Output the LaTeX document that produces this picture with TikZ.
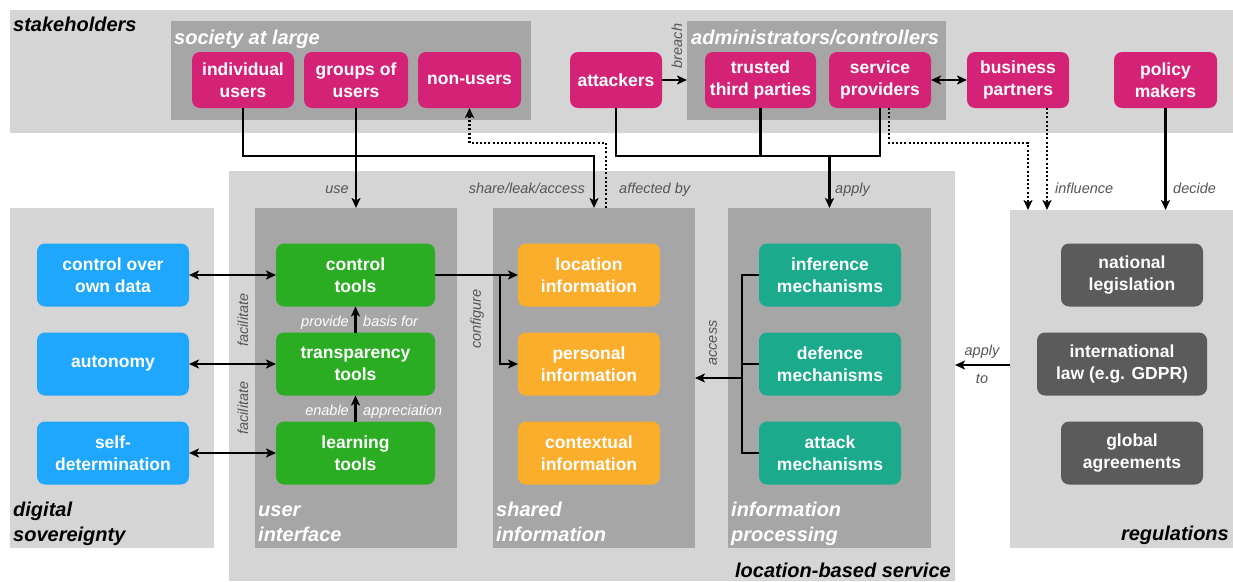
\documentclass[tikz,border=0pt]{standalone}
\usepackage{fontspec}
\setmainfont{Liberation Sans}
\usetikzlibrary{arrows.meta}
\definecolor{bandgray}{HTML}{D5D5D5}
\definecolor{boxgray}{HTML}{A6A6A6}
\definecolor{magc}{HTML}{D42276}
\definecolor{skyc}{HTML}{1EA7FD}
\definecolor{grnc}{HTML}{2AAD22}
\definecolor{orgc}{HTML}{FBAD2C}
\definecolor{tealc}{HTML}{1BAA8C}
\definecolor{dgrayc}{HTML}{5B5B5B}
\definecolor{lblgray}{HTML}{555555}
\newcommand\itemfont{\fontsize{17.5}{22.5}\selectfont\bfseries}
\newcommand\grpfont{\fontsize{20}{25}\selectfont\bfseries\itshape}
\newcommand\lblfont{\fontsize{14.5}{17}\selectfont\itshape}
\begin{document}
\begin{tikzpicture}[x=1pt,y=-1pt,
  region/.style={fill=#1, draw=none, inner sep=0pt, outer sep=0pt, anchor=north west},
  item/.style={fill=#1, draw=none, rounded corners=8pt, text=white, font=\itemfont, align=center, inner sep=0pt, outer sep=0pt},
  grp/.style={font=\grpfont, text=#1, inner sep=0pt, align=left},
  lbl/.style={font=\lblfont, text=lblgray, inner sep=0pt},
  wire/.style={line width=2.1pt, draw=black},
  conn/.style={wire, -{Stealth[length=10pt,width=9pt,inset=2.5pt]}},
  dconn/.style={wire, {Stealth[length=10pt,width=9pt,inset=2.5pt]}-{Stealth[length=10pt,width=9pt,inset=2.5pt]}},
  dotconn/.style={wire, dash pattern=on 2pt off 2.2pt, -{Stealth[length=10pt,width=9pt,inset=2.5pt]}},
]
\useasboundingbox (0,0) rectangle (1233,581);
% regions
\node[region=bandgray, minimum width=1223pt, minimum height=123pt] (sh) at (10,10) {};
\node[region=boxgray, minimum width=360pt, minimum height=99pt] (soc) at (171,21) {};
\node[region=boxgray, minimum width=259pt, minimum height=99pt] (adm) at (687,21) {};
\node[region=bandgray, minimum width=726pt, minimum height=410pt] (lbs) at (229,171) {};
\node[region=bandgray, minimum width=204pt, minimum height=340pt] (ds) at (10,208) {};
\node[region=boxgray, minimum width=202pt, minimum height=340pt] (ui) at (255,208) {};
\node[region=boxgray, minimum width=202pt, minimum height=340pt] (si) at (493,208) {};
\node[region=boxgray, minimum width=203pt, minimum height=340pt] (ip) at (728,208) {};
\node[region=bandgray, minimum width=223pt, minimum height=338pt] (reg) at (1010,210) {};
% group labels
\node[grp=black, anchor=base west] (shl) at (13,31) {stakeholders};
\node[grp=white, anchor=base west] (socl) at (174,44) {society at large};
\node[grp=white, anchor=base west] (adml) at (691,44) {administrators/controllers};
\node[grp=black, anchor=base west] (dsl) at (13,541) {digital\\sovereignty};
\node[grp=white, anchor=base west] (uil) at (258,541) {user\\interface};
\node[grp=white, anchor=base west] (sil) at (496,541) {shared\\information};
\node[grp=white, anchor=base west] (ipl) at (731,541) {information\\processing};
\node[grp=black, anchor=base east] (regl) at (1229,540) {regulations};
\node[grp=black, anchor=base east] (lbsl) at (951,577) {location-based service};
% stakeholder items
\node[item=magc, minimum width=102pt, minimum height=56pt] (indiv) at (243,80) {individual\\users};
\node[item=magc, minimum width=104pt, minimum height=56pt] (groups) at (356,80) {groups of\\users};
\node[item=magc, minimum width=103pt, minimum height=56pt] (nonusers) at (469.5,80) {non-users};
\node[item=magc, minimum width=92pt, minimum height=56pt] (attackers) at (616,80) {attackers};
\node[item=magc, minimum width=111pt, minimum height=56pt] (trusted) at (760.5,80) {trusted\\third parties};
\node[item=magc, minimum width=102pt, minimum height=56pt] (service) at (880,80) {service\\providers};
\node[item=magc, minimum width=102pt, minimum height=56pt] (business) at (1018,80) {business\\partners};
\node[item=magc, minimum width=103pt, minimum height=56pt] (policy) at (1165.5,80) {policy\\makers};
% digital sovereignty
\node[item=skyc, minimum width=152pt, minimum height=63pt] (ctrl) at (113,275) {control over\\own data};
\node[item=skyc, minimum width=152pt, minimum height=63pt] (auto) at (113,364) {autonomy};
\node[item=skyc, minimum width=152pt, minimum height=63pt] (selfd) at (113,453) {self-\\determination};
% user interface
\node[item=grnc, minimum width=159pt, minimum height=63pt] (ctools) at (355.5,275) {control\\tools};
\node[item=grnc, minimum width=159pt, minimum height=63pt] (ttools) at (355.5,364) {transparency\\tools};
\node[item=grnc, minimum width=159pt, minimum height=63pt] (ltools) at (355.5,453) {learning\\tools};
% shared information
\node[item=orgc, minimum width=142pt, minimum height=63pt] (loc) at (589,275) {location\\information};
\node[item=orgc, minimum width=142pt, minimum height=63pt] (pers) at (589,364) {personal\\information};
\node[item=orgc, minimum width=142pt, minimum height=63pt] (ctx) at (589,453) {contextual\\information};
% information processing
\node[item=tealc, minimum width=142pt, minimum height=63pt] (inf) at (830,275) {inference\\mechanisms};
\node[item=tealc, minimum width=142pt, minimum height=63pt] (def) at (830,364) {defence\\mechanisms};
\node[item=tealc, minimum width=142pt, minimum height=63pt] (att) at (830,453) {attack\\mechanisms};
% regulations
\node[item=dgrayc, minimum width=142pt, minimum height=63pt] (natl) at (1132,275) {national\\legislation};
\node[item=dgrayc, minimum width=170pt, minimum height=63pt] (intl) at (1122,364) {international\\law (e.g. GDPR)};
\node[item=dgrayc, minimum width=142pt, minimum height=63pt] (glob) at (1132,453) {global\\agreements};
% helper coordinates
\coordinate (busA) at (0,156);
\coordinate (busD) at (0,143);
\coordinate (affx) at (606,208);
\coordinate (inflx) at (1028,0);
\coordinate (bizx) at (1047,0);
\coordinate (cfg) at (500,275);
\coordinate (accx) at (742,0);
\coordinate (accy) at (742,378);
\coordinate (regy) at (1010,365);
% top connectors
\draw[conn] (indiv.south) |- (busA -| si.north) -- (si.north);
\draw[conn] (groups.south) -- (groups.south |- ui.north);
\draw[dotconn] (affx) |- (busD -| nonusers.south) -- (nonusers.south);
\draw[wire] (attackers.south) |- (busA -| service.south) -- (service.south);
\draw[wire] (trusted.south) -- (trusted.south |- busA);
\draw[conn] (busA -| ip.north) -- (ip.north);
\draw[dotconn] ([xshift=9pt]service.south) |- (busD -| inflx) -- (inflx |- reg.north);
\draw[dotconn] (bizx |- business.south) -- (bizx |- reg.north);
\draw[conn] (policy.south) -- (policy.south |- reg.north);
\draw[conn] (attackers.east) -- (attackers.east -| adm.west);
\draw[dconn] (service.east) -- (business.west);
% middle connectors
\draw[dconn] (ctrl.east) -- (ctools.west);
\draw[dconn] (auto.east) -- (ttools.west);
\draw[dconn] (selfd.east) -- (ltools.west);
\draw[conn] (ttools.north) -- (ctools.south);
\draw[conn] (ltools.north) -- (ttools.south);
\draw[conn] (ctools.east) -- (loc.west);
\draw[conn] (cfg) |- (pers.west);
\draw[wire] (inf.west) -| (accx |- att.west) -- (att.west);
\draw[wire] (def.west) -- (accx |- def.west);
\draw[conn] (accy) -- (accy -| si.east);
\draw[conn] (regy) -- (regy -| lbs.east);
% connector labels
\node[lbl, rotate=90] (breachl) at (677,46) {breach};
\node[lbl, anchor=base east] (usel) at (349,193) {use};
\node[lbl, anchor=base east] (sharel) at (585,193) {share/leak/access};
\node[lbl, anchor=base west] (affl) at (619,193) {affected by};
\node[lbl, anchor=base west] (applyl) at (835,193) {apply};
\node[lbl, anchor=base west] (infll) at (1055,193) {influence};
\node[lbl, anchor=base west] (decl) at (1173,193) {decide};
\node[lbl, rotate=90] (fac1) at (243,320) {facilitate};
\node[lbl, rotate=90] (fac2) at (243,408) {facilitate};
\node[lbl, text=white, anchor=base east] (provl) at (349,326) {provide};
\node[lbl, text=white, anchor=base west] (basl) at (363,326) {basis for};
\node[lbl, text=white, anchor=base east] (enl) at (349,415) {enable};
\node[lbl, text=white, anchor=base west] (appl) at (363,415) {appreciation};
\node[lbl, rotate=90] (cfgl) at (477,319) {configure};
\node[lbl, rotate=90] (accl) at (713,343) {access};
\node[lbl, anchor=base] (apply2l) at (982,355) {apply};
\node[lbl, anchor=base] (tol) at (982,383) {to};
\end{tikzpicture}
\end{document}
